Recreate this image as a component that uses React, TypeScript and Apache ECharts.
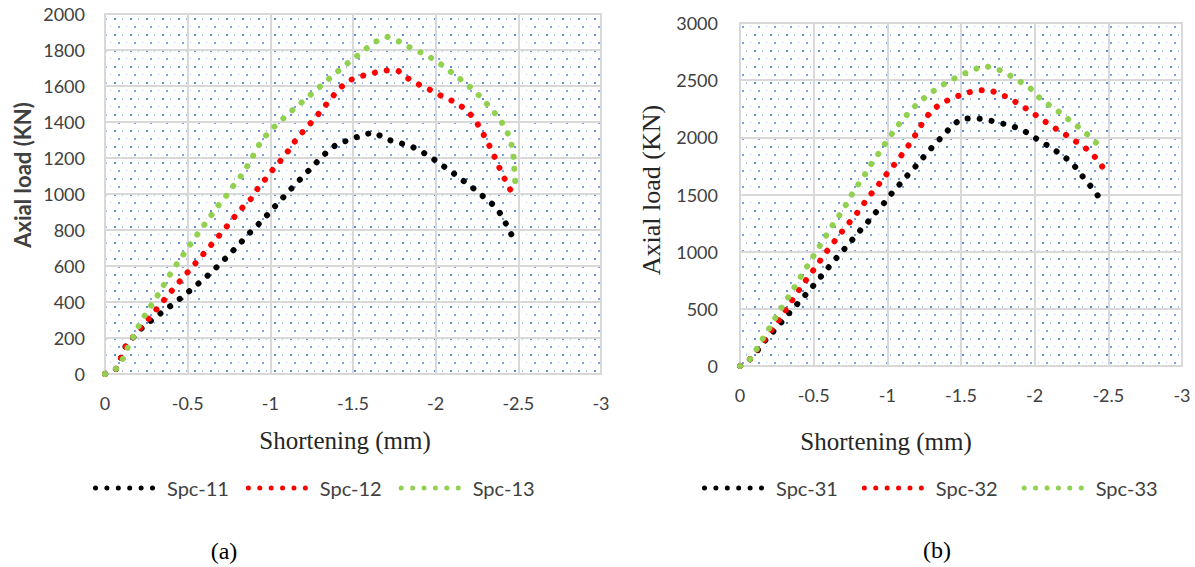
import React, { useEffect, useRef } from "react";
import * as echarts from "echarts";

// ---- Data (a) ----
const spc11: number[][] = [[0,0],[-0.066,28],[-0.10,96],[-0.127,157],[-0.178,211],[-0.231,263],[-0.291,305],[-0.355,350],[-0.416,391],[-0.477,435],[-0.538,482],[-0.598,528],[-0.654,574],[-0.709,624],[-0.763,674],[-0.817,726],[-0.869,778],[-0.924,828],[-0.978,880],[-1.03,933],[-1.134,1037],[-1.243,1141],[-1.35,1241],[-1.41,1281],[-1.49,1303],[-1.56,1331],[-1.632,1341],[-1.697,1306],[-1.775,1285],[-1.847,1267],[-1.917,1235],[-1.984,1196],[-2.108,1115],[-2.233,1028],[-2.349,939],[-2.40,881],[-2.434,818],[-2.47,754]];
const spc12: number[][] = [[0,0],[-0.066,28],[-0.10,96],[-0.127,157],[-0.178,215],[-0.231,275],[-0.281,324],[-0.327,378],[-0.377,433],[-0.428,489],[-0.478,541],[-0.528,596],[-0.578,648],[-0.628,702],[-0.679,757],[-0.729,811],[-0.779,869],[-0.829,922],[-0.878,967],[-0.924,1031],[-0.974,1087],[-1.024,1146],[-1.074,1198],[-1.12,1254],[-1.164,1313],[-1.218,1367],[-1.269,1420],[-1.317,1474],[-1.367,1530],[-1.416,1585],[-1.476,1631],[-1.548,1654],[-1.622,1672],[-1.697,1687],[-1.775,1683],[-1.835,1641],[-1.901,1607],[-1.972,1576],[-2.038,1543],[-2.11,1513],[-2.177,1474],[-2.231,1422],[-2.271,1363],[-2.307,1300],[-2.343,1235],[-2.373,1170],[-2.405,1107],[-2.44,1041],[-2.48,982]];
const spc13: number[][] = [[0,0],[-0.066,28],[-0.11,87],[-0.14,152],[-0.177,217],[-0.21,278],[-0.251,341],[-0.295,402],[-0.335,463],[-0.373,522],[-0.413,583],[-0.458,642],[-0.502,702],[-0.546,759],[-0.592,818],[-0.636,874],[-0.683,933],[-0.733,989],[-0.777,1046],[-0.825,1103],[-0.866,1163],[-0.904,1226],[-0.94,1287],[-0.99,1343],[-1.044,1391],[-1.10,1438],[-1.158,1485],[-1.219,1532],[-1.277,1578],[-1.335,1624],[-1.393,1670],[-1.454,1717],[-1.514,1759],[-1.574,1804],[-1.636,1846],[-1.706,1874],[-1.777,1848],[-1.843,1815],[-1.913,1785],[-1.982,1752],[-2.046,1711],[-2.107,1667],[-2.169,1624],[-2.229,1578],[-2.283,1528],[-2.335,1474],[-2.384,1420],[-2.426,1361],[-2.454,1294],[-2.47,1224],[-2.474,1156],[-2.48,1083],[-2.486,1013]];

// ---- Data (b) ----
const spc31: number[][] = [[0,0],[-0.063,52],[-0.118,134],[-0.174,227],[-0.231,309],[-0.29,396],[-0.346,481],[-0.403,562],[-0.464,650],[-0.52,737],[-0.577,825],[-0.629,907],[-0.686,991],[-0.742,1073],[-0.799,1161],[-0.86,1248],[-0.916,1336],[-0.973,1417],[-1.03,1510],[-1.086,1592],[-1.143,1677],[-1.2,1758],[-1.256,1843],[-1.313,1927],[-1.374,2009],[-1.433,2093],[-1.498,2160],[-1.587,2169],[-1.675,2154],[-1.759,2128],[-1.845,2099],[-1.924,2061],[-1.996,2000],[-2.071,1942],[-2.145,1880],[-2.218,1813],[-2.28,1735],[-2.332,1647],[-2.388,1560],[-2.437,1475]];
const spc32: number[][] = [[0,0],[-0.063,52],[-0.115,140],[-0.168,232],[-0.22,325],[-0.272,417],[-0.321,510],[-0.367,601],[-0.416,694],[-0.468,787],[-0.52,875],[-0.57,971],[-0.622,1058],[-0.674,1146],[-0.728,1233],[-0.785,1321],[-0.837,1414],[-0.889,1504],[-0.944,1592],[-0.996,1680],[-1.05,1767],[-1.104,1857],[-1.154,1948],[-1.20,2041],[-1.245,2140],[-1.297,2230],[-1.367,2298],[-1.444,2344],[-1.528,2385],[-1.611,2411],[-1.697,2411],[-1.779,2373],[-1.856,2321],[-1.928,2263],[-2.003,2198],[-2.075,2134],[-2.147,2073],[-2.222,2014],[-2.295,1950],[-2.365,1887],[-2.424,1808],[-2.476,1712]];
const spc33: number[][] = [[0,0],[-0.063,52],[-0.113,149],[-0.158,248],[-0.204,341],[-0.247,437],[-0.292,531],[-0.34,627],[-0.385,723],[-0.43,819],[-0.475,912],[-0.52,1008],[-0.566,1102],[-0.611,1198],[-0.661,1292],[-0.709,1388],[-0.752,1487],[-0.80,1583],[-0.849,1677],[-0.894,1773],[-0.942,1860],[-0.989,1953],[-1.041,2049],[-1.093,2140],[-1.15,2222],[-1.211,2303],[-1.279,2373],[-1.349,2438],[-1.421,2493],[-1.498,2542],[-1.58,2592],[-1.663,2624],[-1.747,2598],[-1.824,2548],[-1.901,2487],[-1.973,2426],[-2.032,2347],[-2.10,2280],[-2.172,2216],[-2.24,2146],[-2.308,2079],[-2.376,2006],[-2.437,1927]];

const namesA = ["Spc-11", "Spc-12", "Spc-13"];
const namesB = ["Spc-31", "Spc-32", "Spc-33"];
const colors = ["#000000", "#ff0000", "#92d050"];

const SANS = "Lato";
const SERIF = "Liberation Serif";

function makeTile() {
  const c = document.createElement("canvas");
  c.width = 16;
  c.height = 16;
  const ctx = c.getContext("2d")!;
  ctx.fillStyle = "#5a8be0";
  ctx.fillRect(2, 2, 2, 2);
  ctx.fillStyle = "#a8c1ee";
  ctx.fillRect(10, 2, 1, 2);
  ctx.fillStyle = "#7aa2e8";
  ctx.fillRect(6, 10, 2, 2);
  ctx.fillStyle = "#b3c9f0";
  ctx.fillRect(14, 10, 1, 1);
  return c;
}

// legend icon: six round dots
function dotsIcon() {
  let d = "";
  for (let i = 0; i < 6; i++) {
    const cx = 2.5 + 11.4 * i;
    d += `M${cx - 2.5},2.5 A2.5,2.5 0 1,0 ${cx + 2.5},2.5 A2.5,2.5 0 1,0 ${cx - 2.5},2.5 Z `;
  }
  return "path://" + d.trim();
}

export default function App() {
  const ref = useRef<HTMLDivElement>(null);
  useEffect(() => {
    if (!ref.current) return;
    const chart = echarts.init(ref.current, undefined, { renderer: "svg" });
    const tile = makeTile();
    const pattern: any = { image: tile, repeat: "repeat", imageWidth: 16, imageHeight: 16 };
    const gridStyle = {
      show: true,
      backgroundColor: pattern,
      borderColor: "#d9d9d9",
      borderWidth: 2,
    };
    const split = { show: true, lineStyle: { color: "#d9d9d9", width: 2 } };
    const lbl = { fontFamily: SANS, fontSize: 18, color: "#404040" };
    const plain = (v: number) => String(v);
    const xAx = (gi: number) => ({
      type: "value",
      gridIndex: gi,
      min: -3,
      max: 0,
      interval: 0.5,
      inverse: true,
      axisLine: { show: false },
      axisTick: { show: false },
      splitLine: split,
      axisLabel: { ...lbl, margin: 20, formatter: plain },
    });
    const lineSeries = (name: string, data: number[][], color: string, gi: number) => ({
      type: "line",
      name,
      data,
      xAxisIndex: gi,
      yAxisIndex: gi,
      symbol: "none",
      smooth: false,
      color,
      lineStyle: { color, width: 6, type: [0.1, 12], cap: "round" },
    });
    const icon = dotsIcon();
    const legendCommon = {
      icon,
      itemWidth: 62,
      itemHeight: 5,
      textStyle: { fontFamily: SANS, fontSize: 20, color: "#404040", padding: [0, 0, 0, 7] },
      top: 473,
    };
    chart.setOption({
      animation: false,
      backgroundColor: "#ffffff",
      grid: [
        { left: 105, top: 14, width: 496, height: 360, ...gridStyle },
        { left: 740, top: 23, width: 442, height: 343, ...gridStyle },
      ],
      xAxis: [xAx(0), xAx(1)],
      yAxis: [
        {
          type: "value",
          gridIndex: 0,
          min: 0,
          max: 2000,
          interval: 200,
          axisLine: { show: false },
          axisTick: { show: false },
          splitLine: split,
          axisLabel: { ...lbl, margin: 20, formatter: plain },
        },
        {
          type: "value",
          gridIndex: 1,
          min: 0,
          max: 3000,
          interval: 500,
          axisLine: { show: false },
          axisTick: { show: false },
          splitLine: split,
          axisLabel: { ...lbl, margin: 22, formatter: plain },
        },
      ],
      legend: [
        { ...legendCommon, data: namesA, left: 88, itemGap: 17 },
        { ...legendCommon, data: namesB, left: 697, itemGap: 24 },
      ],
      series: [
        lineSeries(namesA[0], spc11, colors[0], 0),
        lineSeries(namesA[1], spc12, colors[1], 0),
        lineSeries(namesA[2], spc13, colors[2], 0),
        lineSeries(namesB[0], spc31, colors[0], 1),
        lineSeries(namesB[1], spc32, colors[1], 1),
        lineSeries(namesB[2], spc33, colors[2], 1),
      ],
      graphic: [
        {
          type: "text",
          x: 22,
          y: 175,
          rotation: Math.PI / 2,
          style: {
            text: "Axial load (KN)",
            font: `bold 22px ${SANS}`,
            fill: "#404040",
            textAlign: "center",
            textVerticalAlign: "middle",
          },
        },
        {
          type: "text",
          x: 651,
          y: 190,
          rotation: Math.PI / 2,
          style: {
            text: "Axial load (KN)",
            font: `26px "${SERIF}"`,
            fill: "#262626",
            textAlign: "center",
            textVerticalAlign: "middle",
          },
        },
        {
          type: "text",
          x: 345,
          y: 440,
          style: {
            text: "Shortening (mm)",
            font: `25px "${SERIF}"`,
            fill: "#262626",
            textAlign: "center",
            textVerticalAlign: "middle",
          },
        },
        {
          type: "text",
          x: 886,
          y: 441,
          style: {
            text: "Shortening (mm)",
            font: `25px "${SERIF}"`,
            fill: "#262626",
            textAlign: "center",
            textVerticalAlign: "middle",
          },
        },
        {
          type: "text",
          x: 224,
          y: 551,
          style: {
            text: "(a)",
            font: `24px "${SERIF}"`,
            fill: "#000000",
            textAlign: "center",
            textVerticalAlign: "middle",
          },
        },
        {
          type: "text",
          x: 937,
          y: 550,
          style: {
            text: "(b)",
            font: `24px "${SERIF}"`,
            fill: "#000000",
            textAlign: "center",
            textVerticalAlign: "middle",
          },
        },
      ],
    });
    return () => chart.dispose();
  }, []);
  return (
    <div
      ref={ref}
      style={{ position: "fixed", left: 0, top: 0, width: 1195, height: 567 }}
    />
  );
}
